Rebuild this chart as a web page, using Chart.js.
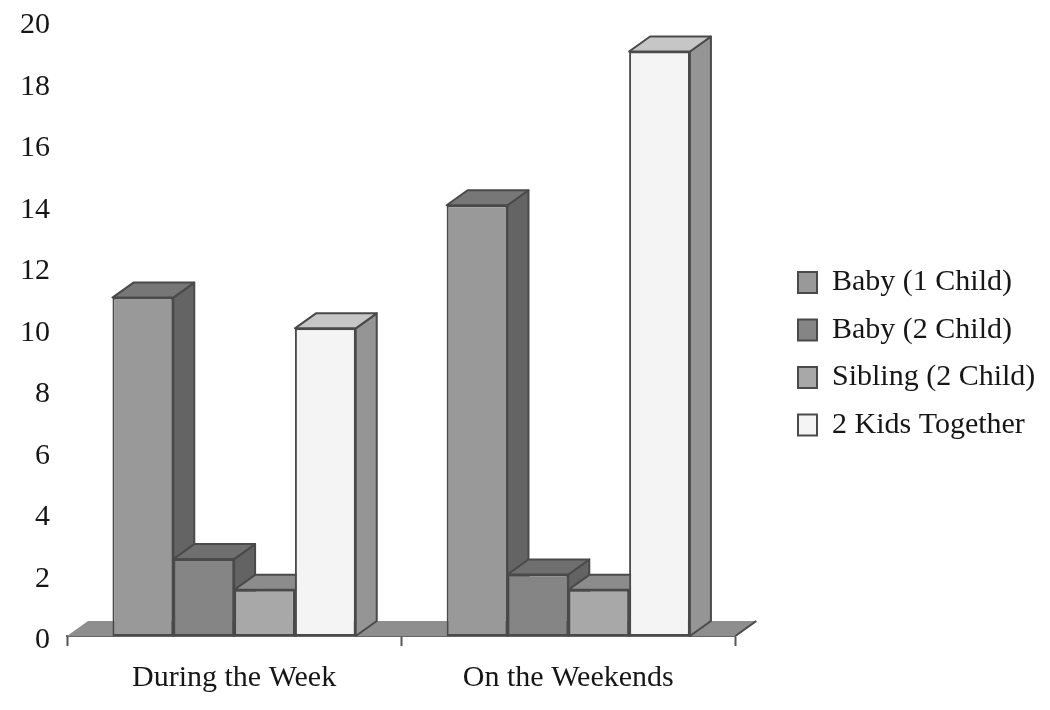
<!DOCTYPE html>
<html>
<head>
<meta charset="utf-8">
<title>Chart</title>
<script src="https://cdn.jsdelivr.net/npm/chart.js@4/dist/chart.umd.min.js"></script>
<style>
	html, body { margin: 0; padding: 0; background: #fff; }
	#wrap { width: 1050px; height: 710px; }
	#chart { filter: blur(0.4px); }
</style>
</head>
<body>
<div id="wrap"><canvas id="chart" width="1050" height="710"></canvas></div>
<script>
// Data
const categories = ['During the Week', 'On the Weekends'];
const seriesNames = ['Baby (1 Child)', 'Baby (2 Child)', 'Sibling (2 Child)', '2 Kids Together'];
const baby1 = [11, 14];
const baby2 = [2.5, 2];
const sibling = [1.5, 1.5];
const together = [10, 19];
const yMax = 20;
const yStep = 2;

// Colors
const frontColors = ['#999999', '#858585', '#a8a8a8', '#f4f4f4'];
const topColors = ['#777777', '#6f6f6f', '#8c8c8c', '#c6c6c6'];
const sideColors = ['#646464', '#636363', '#808080', '#959595'];
const edgeColor = '#4a4a4a';
const floorColor = '#8e8e8e';
const textColor = '#161616';

// Fake depth of the 3D look
const depthX = 21;
const depthY = 15;

function face(ctx, points, fill, stroke) {
	ctx.beginPath();
	ctx.moveTo(points[0][0], points[0][1]);
	for(let i = 1; i < points.length; i++) {
		ctx.lineTo(points[i][0], points[i][1]);
	}
	ctx.closePath();
	if(fill) {
		ctx.fillStyle = fill;
		ctx.fill();
	}
	if(stroke) {
		ctx.strokeStyle = stroke;
		ctx.lineWidth = 2;
		ctx.lineJoin = 'round';
		ctx.stroke();
	}
}

// Floor, then the top and side of every bar. The front faces are the real bars
const depthPlugin = {
	id: 'depth',
	beforeDatasetsDraw(chart) {
		const ctx = chart.ctx;
		const xs = chart.scales.x;
		const y0 = chart.scales.y.getPixelForValue(0);
		ctx.save();
		face(ctx, [[xs.left, y0], [xs.left + depthX, y0 - depthY],
			[xs.right + depthX, y0 - depthY], [xs.right, y0]], floorColor);
		ctx.strokeStyle = edgeColor;
		ctx.lineWidth = 2;
		ctx.beginPath();
		ctx.moveTo(xs.right, y0);
		ctx.lineTo(xs.right + depthX, y0 - depthY);
		ctx.stroke();

		for(let i = 0; i < categories.length; i++) {
			for(let d = 0; d < chart.data.datasets.length; d++) {
				const bar = chart.getDatasetMeta(d).data[i];
				const l = bar.x - bar.width / 2;
				const r = bar.x + bar.width / 2;
				face(ctx, [[r, bar.y], [r + depthX, bar.y - depthY],
					[r + depthX, y0 - depthY], [r, y0]], sideColors[d], edgeColor);
				face(ctx, [[l, bar.y], [l + depthX, bar.y - depthY],
					[r + depthX, bar.y - depthY], [r, bar.y]], topColors[d], edgeColor);
			}
		}
		ctx.restore();
	}
};

// The legend sits further right and higher than the layout would put it
const legendPlugin = {
	id: 'moveLegend',
	afterLayout(chart) {
		const l = chart.legend;
		l.left = 780.5;
		l.right = 1050;
		l.top -= 12;
		l.bottom -= 12;
	}
};

window.onload = function() {
	const series = [baby1, baby2, sibling, together];
	new Chart(document.getElementById('chart'), {
		type: 'bar',
		data: {
			labels: categories,
			datasets: series.map((values, i) => ({
				label: seriesNames[i],
				data: values,
				backgroundColor: frontColors[i],
				borderColor: edgeColor,
				borderWidth: 2,
				borderSkipped: false,
				categoryPercentage: 0.728,
				barPercentage: 1
			}))
		},
		options: {
			responsive: false,
			animation: false,
			layout: { padding: { left: 3, right: 70.5, top: 20.7, bottom: -1 } },
			scales: {
				x: {
					grid: { offset: true, drawOnChartArea: false, tickLength: 10, tickColor: '#555555', tickWidth: 2 },
					border: { color: '#666666', width: 2 },
					ticks: {
						color: textColor,
						padding: 14.5,
						font: { family: 'Liberation Serif', size: 30 },
						maxRotation: 0
					}
				},
				y: {
					min: 0,
					max: yMax,
					grid: { display: false, drawTicks: false },
					border: { display: false },
					// tick padding would otherwise push the plot top down
					afterFit(scale) {
						scale.paddingTop = 0;
						scale.paddingBottom = 0;
					},
					ticks: {
						stepSize: yStep,
						color: textColor,
						padding: 17,
						labelOffset: 4.5,
						font: { family: 'Liberation Serif', size: 30 }
					}
				}
			},
			plugins: {
				tooltip: { enabled: false },
				legend: {
					position: 'right',
					labels: {
						color: textColor,
						boxWidth: 19,
						boxHeight: 21,
						padding: 17.5,
						font: { family: 'Liberation Serif', size: 30 }
					}
				}
			}
		},
		plugins: [depthPlugin, legendPlugin]
	});
};
</script>
</body>
</html>
